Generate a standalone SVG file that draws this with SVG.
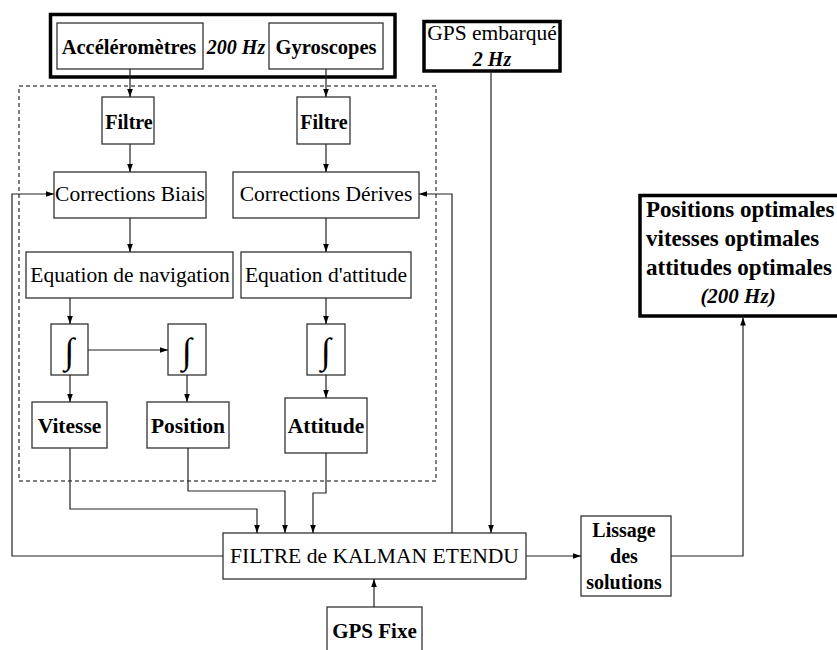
<svg xmlns="http://www.w3.org/2000/svg" width="837" height="650" viewBox="0 0 837 650">
<style>
text{font-family:"Liberation Serif","Times New Roman",serif;fill:#000;}
.b{font-weight:bold;font-size:20px;}
.b2{font-weight:bold;font-size:21.5px;}
.r{font-size:21.5px;}
.bi{font-weight:bold;font-style:italic;font-size:20px;}
.big{font-weight:bold;font-size:23px;}
.box{fill:#fff;stroke:#333;stroke-width:1.3;}
.thick{fill:none;stroke:#000;stroke-width:3.5;}
.dash{fill:none;stroke:#000;stroke-width:1;stroke-dasharray:4 3;}
.c{fill:none;stroke:#222;stroke-width:1.2;}
.int{font-size:36px;}
</style>
<defs>
<marker id="ah" viewBox="0 0 10 10" refX="10" refY="5" markerWidth="8" markerHeight="8" orient="auto" markerUnits="userSpaceOnUse"><path d="M0,1.5 L10,5 L0,8.5 z" fill="#000"/></marker>
</defs>
<rect width="837" height="650" fill="#fff"/>
<rect class="dash" x="19" y="86" width="417" height="395"/>
<g id="capteurs">
<rect class="thick" x="50.5" y="14.5" width="344.5" height="62.5" stroke-width="4"/>
<text class="bi" x="236" y="54" text-anchor="middle">200 Hz</text>
</g>
<g id="accelerometres"><rect class="box" x="57" y="23" width="146" height="46"/><text class="b" x="129" y="54" text-anchor="middle" style="font-size:20.5px">Accéléromètres</text></g>
<g id="gyroscopes"><rect class="box" x="269" y="23" width="114" height="46"/><text class="b" x="326" y="54" text-anchor="middle" style="font-size:20.5px">Gyroscopes</text></g>
<g id="gps-embarque"><rect class="thick" x="424" y="21.5" width="136" height="49.5" stroke-width="3"/><text class="r" x="492" y="40" text-anchor="middle">GPS embarqué</text><text class="bi" x="492" y="66" text-anchor="middle">2 Hz</text></g>
<g id="filtre1"><rect class="box" x="102" y="97" width="52" height="47"/><text class="b" x="129" y="129" text-anchor="middle">Filtre</text></g>
<g id="filtre2"><rect class="box" x="297" y="97" width="53" height="47"/><text class="b" x="324" y="129" text-anchor="middle">Filtre</text></g>
<g id="corr-biais"><rect class="box" x="54" y="172" width="152" height="46"/><text class="r" x="130" y="201" text-anchor="middle">Corrections Biais</text></g>
<g id="corr-derives"><rect class="box" x="233" y="172" width="186" height="46"/><text class="r" x="326" y="201" text-anchor="middle">Corrections Dérives</text></g>
<g id="eq-nav"><rect class="box" x="26" y="252" width="207" height="46"/><text class="r" x="130" y="282" text-anchor="middle">Equation de navigation</text></g>
<g id="eq-att"><rect class="box" x="241" y="252" width="170" height="46"/><text class="r" x="326" y="282" text-anchor="middle">Equation d'attitude</text></g>
<g id="int1"><rect class="box" x="51" y="324" width="37" height="51"/><text class="int" x="69.5" y="363" text-anchor="middle">∫</text></g>
<g id="int2"><rect class="box" x="168" y="324" width="38" height="51"/><text class="int" x="187" y="363" text-anchor="middle">∫</text></g>
<g id="int3"><rect class="box" x="307" y="324" width="38" height="51"/><text class="int" x="326" y="363" text-anchor="middle">∫</text></g>
<g id="vitesse"><rect class="box" x="32" y="402" width="75" height="46"/><text class="b2" x="69.5" y="433" text-anchor="middle">Vitesse</text></g>
<g id="position"><rect class="box" x="147" y="402" width="82" height="46"/><text class="b2" x="188" y="433" text-anchor="middle">Position</text></g>
<g id="attitude"><rect class="box" x="285" y="398" width="82" height="55"/><text class="b2" x="326" y="433" text-anchor="middle">Attitude</text></g>
<g id="kalman"><rect class="box" x="223" y="533" width="303" height="46"/><text class="r" x="374.5" y="563" text-anchor="middle" style="font-size:21.6px">FILTRE de KALMAN ETENDU</text></g>
<g id="gps-fixe"><rect class="box" x="327" y="607" width="95" height="50"/><text class="b" x="374.5" y="638" text-anchor="middle" style="font-size:21px">GPS Fixe</text></g>
<g id="lissage"><rect class="box" x="581" y="516" width="90" height="80"/><text class="b" x="624" y="537" text-anchor="middle">Lissage</text><text class="b" x="624" y="563" text-anchor="middle">des</text><text class="b" x="624" y="589" text-anchor="middle">solutions</text></g>
<g id="sortie"><rect class="thick" x="640" y="195.5" width="220" height="120.5"/>
<text class="big" x="646" y="217">Positions optimales</text>
<text class="big" x="646" y="246">vitesses optimales</text>
<text class="big" x="646" y="275">attitudes optimales</text>
<text class="big" x="738" y="303" text-anchor="middle" font-style="italic" style="font-size:21px">(200 Hz)</text></g>
<g id="connectors" class="c">
<path class="c" marker-end="url(#ah)" d="M130,69 V97"/>
<path class="c" marker-end="url(#ah)" d="M326,69 V97"/>
<path class="c" marker-end="url(#ah)" d="M130,144 V172"/>
<path class="c" marker-end="url(#ah)" d="M326,144 V172"/>
<path class="c" marker-end="url(#ah)" d="M130,218 V252"/>
<path class="c" marker-end="url(#ah)" d="M326,218 V252"/>
<path class="c" marker-end="url(#ah)" d="M70,298 V324"/>
<path class="c" marker-end="url(#ah)" d="M326,298 V324"/>
<path class="c" marker-end="url(#ah)" d="M88,350 H168"/>
<path class="c" marker-end="url(#ah)" d="M70,375 V402"/>
<path class="c" marker-end="url(#ah)" d="M187,375 V402"/>
<path class="c" marker-end="url(#ah)" d="M326,375 V398"/>
<path class="c" marker-end="url(#ah)" d="M70,448 V509 H257 V533"/>
<path class="c" marker-end="url(#ah)" d="M188,448 V491 H285 V533"/>
<path class="c" marker-end="url(#ah)" d="M326,453 V493 H313 V533"/>
<path class="c" marker-end="url(#ah)" d="M223,556 H12 V194 H54"/>
<path class="c" marker-end="url(#ah)" d="M452,533 V194 H419"/>
<path class="c" marker-end="url(#ah)" d="M491,72.5 V533"/>
<path class="c" marker-end="url(#ah)" d="M374,607 V579"/>
<path class="c" marker-end="url(#ah)" d="M526,556 H581"/>
<path class="c" marker-end="url(#ah)" d="M671,556 H743 V317.5"/>
</g>
</svg>
